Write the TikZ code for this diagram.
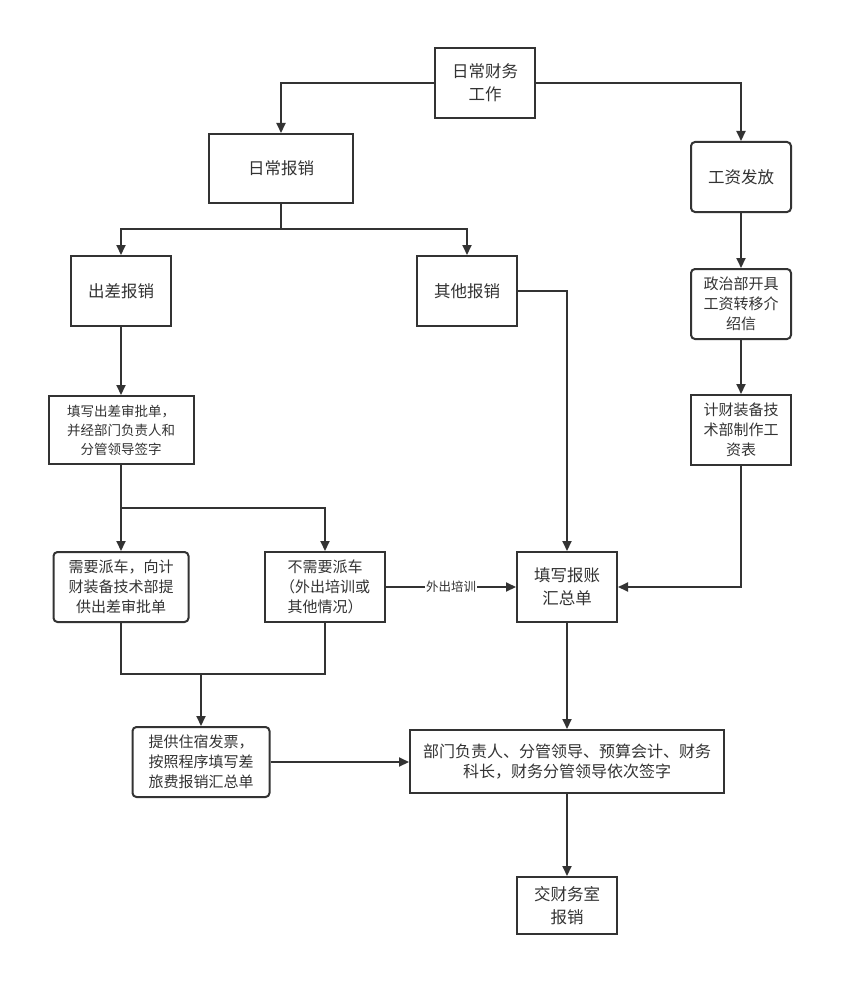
\documentclass[tikz,border=0pt]{standalone}
\usepackage{fontspec}
\setmainfont{Noto Sans CJK SC}
\usetikzlibrary{arrows.meta}
\definecolor{ln}{HTML}{333333}
\tikzset{
  box/.style={draw=ln, line width=2pt, fill=white, inner sep=0pt, align=center, text=ln,
    font=\fontsize{16.5}{23}\selectfont},
  rbox/.style={box, rounded corners=4pt},
  small/.style={font=\fontsize{15}{20}\selectfont},
  tiny/.style={font=\fontsize{13.5}{19}\selectfont},
  wide/.style={font=\fontsize{16}{20}\selectfont},
  con/.style={draw=ln, line width=2pt},
  arr/.style={con, -{Triangle[length=10pt,width=9pt]}},
  lab/.style={fill=white, inner sep=1pt, text=ln, font=\fontsize{12.5}{14}\selectfont}
}
\begin{document}
\begin{tikzpicture}[x=1pt,y=-1pt]
\path[use as bounding box, fill=white] (0,0) rectangle (852,995);

\node[box, minimum width=100pt, minimum height=70pt] (top) at (485,83) {日常财务\\工作};
\node[box, minimum width=144pt, minimum height=69pt] (daily) at (281,168.5) {日常报销};
\node[rbox, minimum width=100pt, minimum height=70pt] (wage) at (741,177) {工资发放};
\node[box, minimum width=100pt, minimum height=70pt] (trip) at (121,291) {出差报销};
\node[box, minimum width=100pt, minimum height=70pt] (other) at (467,291) {其他报销};
\node[rbox, small, minimum width=100pt, minimum height=70pt] (pol) at (741,304) {政治部开具\\工资转移介\\绍信};
\node[box, tiny, minimum width=145pt, minimum height=68pt] (form) at (121,430) {填写出差审批单，\\并经部门负责人和\\分管领导签字};
\node[box, small, minimum width=100pt, minimum height=70pt] (tab) at (741,430) {计财装备技\\术部制作工\\资表};
\node[rbox, small, minimum width=135pt, minimum height=70pt] (need) at (121,587) {需要派车，向计\\财装备技术部提\\供出差审批单};
\node[box, small, minimum width=120pt, minimum height=70pt] (noneed) at (325,587) {不需要派车\\（外出培训或\\其他情况）};
\node[box, minimum width=100pt, minimum height=70pt] (sum) at (567,587) {填写报账\\汇总单};
\node[rbox, small, minimum width=137pt, minimum height=70pt] (hotel) at (201,762) {提供住宿发票，\\按照程序填写差\\旅费报销汇总单};
\node[box, wide, minimum width=314pt, minimum height=63pt] (sign) at (567,761.5) {部门负责人、分管领导、预算会计、财务\\科长，财务分管领导依次签字};
\node[box, minimum width=100pt, minimum height=57pt] (office) at (567,905.5) {交财务室\\报销};

\coordinate (j1) at (281,229);
\coordinate (j2) at (121,508);
\coordinate (m) at (201,674);

\draw[arr] (top.west) -| (daily.north);
\draw[arr] (top.east) -| (wage.north);
\draw[con] (daily.south) -- (j1);
\draw[arr] (j1) -| (trip.north);
\draw[arr] (j1) -| (other.north);
\draw[arr] (other.east) -| (sum.north);
\draw[arr] (wage) -- (pol);
\draw[arr] (pol) -- (tab);
\draw[arr] (tab.south) |- (sum.east);
\draw[arr] (trip) -- (form);
\draw[arr] (form.south) -- (need.north);
\draw[arr] (j2) -| (noneed.north);
\draw[arr] (noneed.east) -- node[lab] {外出培训} (sum.west);
\draw[con] (need.south) |- (m) -| (noneed.south);
\draw[arr] (m) -- (hotel.north);
\draw[arr] (hotel.east) -- (hotel.east -| sign.west);
\draw[arr] (sum) -- (sign);
\draw[arr] (sign) -- (office);
\end{tikzpicture}
\end{document}
